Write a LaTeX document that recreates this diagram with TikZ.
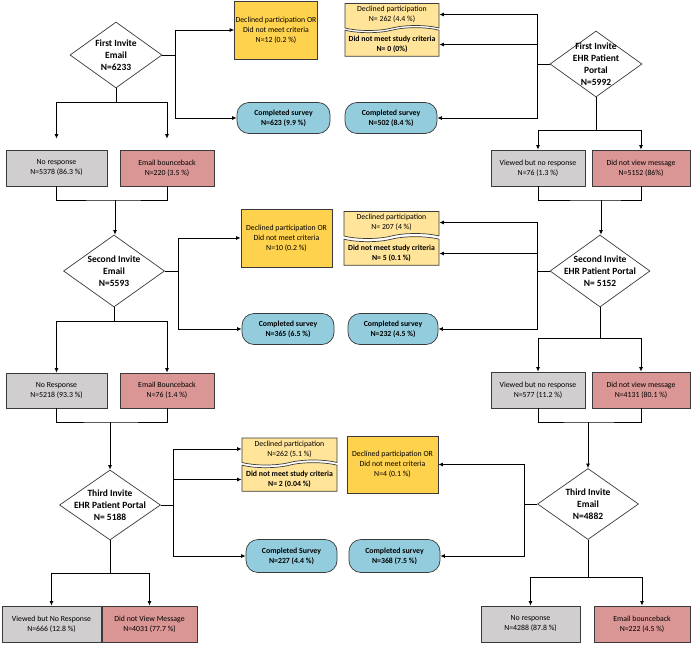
\documentclass[tikz,border=0pt]{standalone}
\usepackage{fontspec}
\setmainfont{Carlito}
\usepackage{xcolor}
\usetikzlibrary{shapes.geometric,shapes.symbols,arrows.meta}

\definecolor{boxgray}{HTML}{D0CECE}
\definecolor{boxred}{HTML}{DA9694}
\definecolor{boxgold}{HTML}{FFD24E}
\definecolor{boxtape}{HTML}{FFE49A}
\definecolor{boxblue}{HTML}{93CDDD}
\definecolor{edgegray}{HTML}{3A3A3A}

\tikzset{
    every node/.style={font=\fontsize{7.8}{10}\selectfont, align=center},
    base/.style={draw=edgegray, line width=0.7pt, inner sep=1pt},
    grey box/.style={base, rectangle, fill=boxgray, minimum height=36pt},
    red box/.style={base, rectangle, fill=boxred, minimum height=36pt},
    gold box/.style={base, rectangle, fill=boxgold, minimum height=58pt},
    done/.style={base, rectangle, rounded corners=12pt, fill=boxblue,
        minimum height=31pt, font=\bfseries\fontsize{7.8}{10}\selectfont},
    tape top/.style={base, tape, fill=boxtape, inner xsep=0pt,
        tape bend top=none, tape bend bottom=in and out, tape bend height=5pt,
        minimum height=27pt},
    tape bottom/.style={base, tape, fill=boxtape, inner xsep=0pt,
        tape bend top=in and out, tape bend bottom=none, tape bend height=5pt,
        minimum height=27pt, font=\bfseries\fontsize{7.8}{10}\selectfont},
    decision/.style={base, diamond, fill=white, inner sep=0pt},
    dtxt/.style={inner sep=0pt, font=\bfseries\fontsize{9.5}{12}\selectfont},
}

\begin{document}
\begin{tikzpicture}[x=1pt, y=-1pt, line width=0.8pt, >={Latex[length=4.5pt,width=4pt]}]
    \useasboundingbox (0,0) rectangle (691,645);
    % First invite, email
    \node[decision, minimum width=92pt, minimum height=66pt] (e1) at (116,55) {};
    \node[dtxt] (e1t) at (e1) {First Invite\\Email\\N=6233};
    \node[gold box, minimum width=82pt] (or1) at (276,30) {Declined participation OR\\Did not meet criteria\\N=12 (0.2 \%)};
    \node[done, minimum width=93pt] (cs1) at (283.5,118) {Completed survey\\N=623 (9.9 \%)};
    \node[grey box, minimum width=101pt] (nr1) at (56.5,168) {No response\\N=5378 (86.3 \%)};
    \node[red box, minimum width=94pt] (eb1) at (167,168) {Email bounceback\\N=220 (3.5 \%)};
    \coordinate (j1) at (175,55);
    \coordinate (b1) at (116,102);
    \coordinate (m1) at (115,200);
    % First invite, portal
    \node[decision, minimum width=92pt, minimum height=66pt] (p1) at (596,64) {};
    \node[dtxt] (p1t) at (p1) {First Invite\\EHR Patient\\Portal\\N=5992};
    \node[tape top, minimum width=94pt] (dp1) at (392,14.5) {Declined participation\\N= 262 (4.4 \%)};
    \node[tape bottom, minimum width=94pt] (nm1) at (392,44.5) {Did not meet study criteria\\N= 0 (0\%)};
    \node[done, minimum width=92pt] (cs2) at (391,118) {Completed survey\\N=502 (8.4 \%)};
    \node[grey box, minimum width=94pt] (vr1) at (538,168) {Viewed but no response\\N=76 (1.3 \%)};
    \node[red box, minimum width=98pt] (dv1) at (641,168) {Did not view message\\N=5152 (86\%)};
    \coordinate (j2) at (537,64);
    \coordinate (b2) at (596,130);
    \coordinate (m2) at (601,200);

    % Second invite, email
    \node[decision, minimum width=101pt, minimum height=72pt] (e2) at (114,271) {};
    \node[dtxt] (e2t) at (e2) {Second Invite\\Email\\N=5593};
    \node[gold box, minimum width=91pt] (or2) at (286.5,238) {Declined participation OR\\Did not meet criteria\\N=10 (0.2 \%)};
    \node[done, minimum width=92pt] (cs3) at (288,329) {Completed survey\\N=365 (6.5 \%)};
    \node[grey box, minimum width=101pt, minimum height=35pt] (nr2) at (56.5,390.5) {No Response\\N=5218 (93.3 \%)};
    \node[red box, minimum width=94pt, minimum height=35pt] (eb2) at (167,390.5) {Email Bounceback\\N=76 (1.4 \%)};
    \coordinate (j3) at (178,271);
    \coordinate (b3) at (114,321);
    \coordinate (m3) at (110,422);
    % Second invite, portal
    \node[decision, minimum width=100pt, minimum height=72pt] (p2) at (600,271) {};
    \node[dtxt] (p2t) at (p2) {Second Invite\\EHR Patient Portal\\N= 5152};
    \node[tape top, minimum width=95pt] (dp2) at (391.5,222.5) {Declined participation\\N= 207 (4 \%)};
    \node[tape bottom, minimum width=95pt] (nm2) at (391.5,253.5) {Did not meet study criteria\\N= 5 (0.1 \%)};
    \node[done, minimum width=90pt] (cs4) at (393,329) {Completed survey\\N=232 (4.5 \%)};
    \node[grey box, minimum width=94pt] (vr2) at (538,390) {Viewed but no response\\N=577 (11.2 \%)};
    \node[red box, minimum width=98pt] (dv2) at (641,390) {Did not view message\\N=4131 (80.1 \%)};
    \coordinate (j4) at (537,271);
    \coordinate (b4) at (600,338);
    \coordinate (m4) at (588,422);

    % Third invite, portal
    \node[decision, minimum width=101pt, minimum height=70pt] (p3) at (110,505) {};
    \node[dtxt] (p3t) at (p3) {Third Invite\\EHR Patient Portal\\N= 5188};
    \node[tape top, minimum width=95pt] (dp3) at (289.5,449) {Declined participation\\N=262 (5.1 \%)};
    \node[tape bottom, minimum width=95pt] (nm3) at (289.5,479.5) {Did not meet study criteria\\N= 2 (0.04 \%)};
    \node[done, minimum width=91pt, minimum height=33pt] (cs5) at (291.5,556) {Completed Survey\\N=227 (4.4 \%)};
    \node[grey box, minimum width=99pt] (vn3) at (51.5,624) {Viewed but No Response\\N=666 (12.8 \%)};
    \node[red box, minimum width=95pt] (dv3) at (149.5,624) {Did not View Message\\N=4031 (77.7 \%)};
    \coordinate (j5) at (173,505);
    \coordinate (b5) at (110,573);
    % Third invite, email
    \node[decision, minimum width=101pt, minimum height=71pt] (e3) at (588,504) {};
    \node[dtxt] (e3t) at (e3) {Third Invite\\Email\\N=4882};
    \node[gold box, minimum width=91pt, minimum height=57pt] (or3) at (392.5,464.5) {Declined participation OR\\Did not meet criteria\\N=4 (0.1 \%)};
    \node[done, minimum width=91pt, minimum height=33pt] (cs6) at (394.5,556) {Completed survey\\N=368 (7.5 \%)};
    \node[grey box, minimum width=99pt] (nr3) at (530.5,624) {No response\\N=4288 (87.8 \%)};
    \node[red box, minimum width=96pt] (eb3) at (642,624) {Email bounceback\\N=222 (4.5 \%)};
    \coordinate (j6) at (524,504);
    \coordinate (b6) at (588,577);

    % Connectors, first invite
    \draw (e1.east) -- (j1);
    \draw[->] (j1) |- (or1.west);
    \draw[->] (j1) |- (cs1.west);
    \draw (e1.south) -- (b1);
    \draw[->, shorten >=11pt] (b1) -| (nr1.north);
    \draw[->, shorten >=11pt] (b1) -| (eb1.north);
    \draw (nr1.south) |- (m1) -| (eb1.south);
    \draw[->] (m1) -- (m1 |- e2.north);
    \draw (p1.west) -- (j2);
    \draw[->] (j2) |- (dp1.east);
    \draw[->] (j2) |- (nm1.east);
    \draw[->] (j2) |- (cs2.east);
    \draw (p1.south) -- (b2);
    \draw[->] (b2) -| (vr1.north);
    \draw[->] (b2) -| (dv1.north);
    \draw (vr1.south) |- (m2) -| (dv1.south);
    \draw[->] (m2) -- (m2 |- p2.north);

    % Connectors, second invite
    \draw (e2.east) -- (j3);
    \draw[->] (j3) |- (or2.west);
    \draw[->] (j3) |- (cs3.west);
    \draw (e2.south) -- (b3);
    \draw[->] (b3) -| (nr2.north);
    \draw[->] (b3) -| (eb2.north);
    \draw (nr2.south) |- (m3) -| (eb2.south);
    \draw[->] (m3) -- (m3 |- p3.north);
    \draw (p2.west) -- (j4);
    \draw[->] (j4) |- (dp2.east);
    \draw[->] (j4) |- (nm2.east);
    \draw[->] (j4) |- (cs4.east);
    \draw (p2.south) -- (b4);
    \draw[->] (b4) -| (vr2.north);
    \draw[->] (b4) -| (dv2.north);
    \draw (vr2.south) |- (m4) -| (dv2.south);
    \draw[->] (m4) -- (m4 |- e3.north);

    % Connectors, third invite
    \draw (p3.east) -- (j5);
    \draw[->] (j5) |- (dp3.west);
    \draw[->] (j5) |- (nm3.west);
    \draw[->] (j5) |- (cs5.west);
    \draw (p3.south) -- (b5);
    \draw[->] (b5) -| (vn3.north);
    \draw[->] (b5) -| (dv3.north);
    \draw (e3.west) -- (j6);
    \draw[->] (j6) |- (or3.east);
    \draw[->] (j6) |- (cs6.east);
    \draw (e3.south) -- (b6);
    \draw[->] (b6) -| (nr3.north);
    \draw[->] (b6) -| (eb3.north);
\end{tikzpicture}
\end{document}
